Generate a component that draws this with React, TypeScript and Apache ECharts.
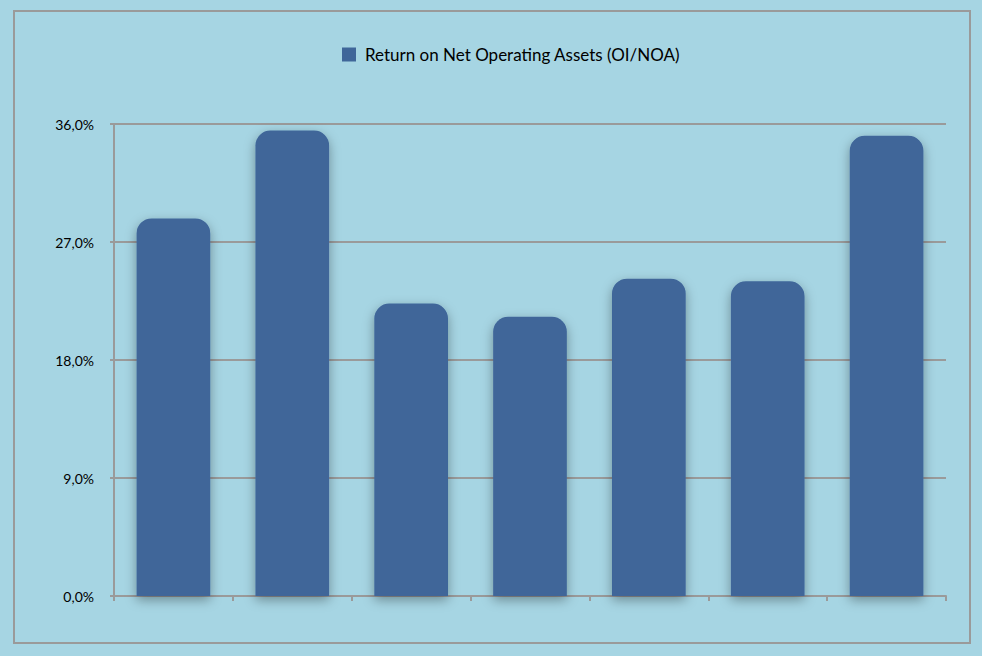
import React, { useEffect, useRef } from "react";
import * as echarts from "echarts";

const categories = ["1", "2", "3", "4", "5", "6", "7"];
const seriesName = "Return on Net Operating Assets (OI/NOA)";
const values = [28.8, 35.5, 22.3, 21.3, 24.2, 24.0, 35.1];
const yTicks = { min: 0, max: 36, interval: 9 };

export default function App() {
  const ref = useRef<HTMLDivElement>(null);
  useEffect(() => {
    document.body.style.margin = "0";
    const chart = echarts.init(ref.current!, null, { renderer: "svg" });
    chart.setOption({
      animation: false,
      backgroundColor: "#A6D5E3",
      textStyle: { fontFamily: "Lato, 'Open Sans', sans-serif" },
      graphic: [
        {
          type: "rect",
          shape: { x: 14, y: 11, width: 956, height: 632 },
          style: { fill: "none", stroke: "#9A9A9A", lineWidth: 2 },
          silent: true,
        },
      ],
      legend: {
        left: 342,
        top: 46,
        padding: 0,
        icon: "rect",
        itemWidth: 14,
        itemHeight: 14,
        itemGap: 10,
        textStyle: {
          fontSize: 17,
          color: "#000",
          padding: [0, 0, 0, 4],
          fontFamily: "Lato, 'Open Sans', sans-serif",
        },
        data: [seriesName],
      },
      grid: { left: 114, right: 36, top: 124, bottom: 60, containLabel: false },
      xAxis: {
        type: "category",
        data: categories,
        axisLine: { lineStyle: { color: "#9A9A9A", width: 2 } },
        axisTick: { show: true, length: 5, lineStyle: { color: "#9A9A9A", width: 2 } },
        axisLabel: { show: false },
      },
      yAxis: {
        type: "value",
        min: yTicks.min,
        max: yTicks.max,
        interval: yTicks.interval,
        axisLine: { show: true, lineStyle: { color: "#9A9A9A", width: 2 } },
        axisTick: { show: true, length: 4, lineStyle: { color: "#9A9A9A", width: 2 } },
        splitLine: { lineStyle: { color: "#9A9A9A", width: 2 } },
        axisLabel: {
          margin: 20,
          fontSize: 14,
          color: "#000",
          formatter: (v: number) => v.toFixed(1).replace(".", ",") + "%",
        },
      },
      series: [
        {
          name: seriesName,
          type: "bar",
          data: values,
          barWidth: "62%",
          itemStyle: {
            color: "#3F6699",
            borderRadius: [15, 15, 0, 0],
            shadowBlur: 12,
            shadowColor: "rgba(0,0,0,0.35)",
            shadowOffsetY: 4,
          },
        },
      ],
    });
    return () => chart.dispose();
  }, []);
  return <div ref={ref} style={{ width: 982, height: 656 }} />;
}
